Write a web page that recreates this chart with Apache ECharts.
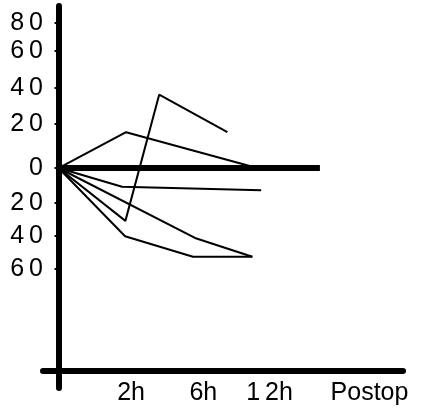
<!DOCTYPE html>
<html>
<head>
<meta charset="utf-8">
<script src="https://cdn.jsdelivr.net/npm/echarts@6/dist/echarts.min.js"></script>
<style>html,body{margin:0;padding:0;background:#fff;}#c{width:424px;height:418px;}</style>
</head>
<body>
<div id="c"></div>
<script>
// x positions: 0 = start, 1 = 2h, 2 = 6h, 3 = 12h (hand-drawn, some points between)
const xTickValues = [1, 2, 3];
const xLabelValues = [1, 2.07, 3.05, 4.53];
const xLabels = ['2h', '6h', '1\u20092h', 'Postop'];
// hand-drawn y axis: tick labels sit at irregular heights (negative side drawn without minus sign)
const yLabelValues = [-59, -40, -20.5, 0, 26, 47, 68.5, 85];
const yLabels = ['6\u20090', '4\u20090', '2\u20090', '0', '2\u20090', '4\u20090', '6\u20090', '8\u20090'];

const baseline = [[0, 0], [3.87, 0]];
const seriesUp = [[0, 0], [1.0, 21], [2.94, 0]];
const seriesZigzag = [[0, 0], [0.99, -31], [1.49, 43], [2.5, 21]];
const seriesSmallDrop = [[0, 0], [0.94, -11], [3.0, -13]];
const seriesLinear = [[0, 0], [2.02, -41], [2.87, -52]];
const seriesDeep = [[0, 0], [0.985, -40], [1.99, -52], [2.87, -52]];

const font = 'Liberation Sans';

const lineSeries = [seriesUp, seriesZigzag, seriesSmallDrop, seriesLinear, seriesDeep].map(d => ({
  type: 'line', data: d, symbol: 'none', silent: true,
  lineStyle: { color: '#000', width: 2 }
}));

const chart = echarts.init(document.getElementById('c'), null, { renderer: 'canvas' });
chart.setOption({
  backgroundColor: '#fff',
  animation: false,
  grid: { left: 43, right: 21, top: 6, bottom: 30, outerBoundsMode: 'none', containLabel: false },
  xAxis: {
    type: 'value', min: -0.23, max: 5.1,
    offset: -17.5,
    axisLine: { onZero: false, lineStyle: { color: '#000', width: 6, cap: 'round' } },
    axisTick: { show: true, customValues: xTickValues, length: 3, lineStyle: { color: '#000', width: 2 } },
    axisLabel: {
      customValues: xLabelValues, margin: 10, padding: [0, 0, 0, 10],
      color: '#000', fontFamily: font, fontSize: 25,
      formatter: v => { const i = xLabelValues.indexOf(v); return i >= 0 ? xLabels[i] : ''; }
    },
    splitLine: { show: false }
  },
  yAxis: {
    type: 'value', min: -129, max: 95,
    axisLine: { onZero: true, lineStyle: { color: '#000', width: 6 } },
    axisTick: { show: true, customValues: yLabelValues, length: 4, lineStyle: { color: '#000', width: 2 } },
    axisLabel: {
      customValues: yLabelValues, margin: 0,
      color: '#000', fontFamily: font, fontSize: 25,
      formatter: v => { const i = yLabelValues.indexOf(v); return i >= 0 ? yLabels[i] : ''; }
    },
    splitLine: { show: false }
  },
  series: [{
    type: 'line', data: baseline, symbol: 'none', silent: true,
    lineStyle: { color: '#000', width: 6 }
  }].concat(lineSeries)
});
</script>
</body>
</html>
